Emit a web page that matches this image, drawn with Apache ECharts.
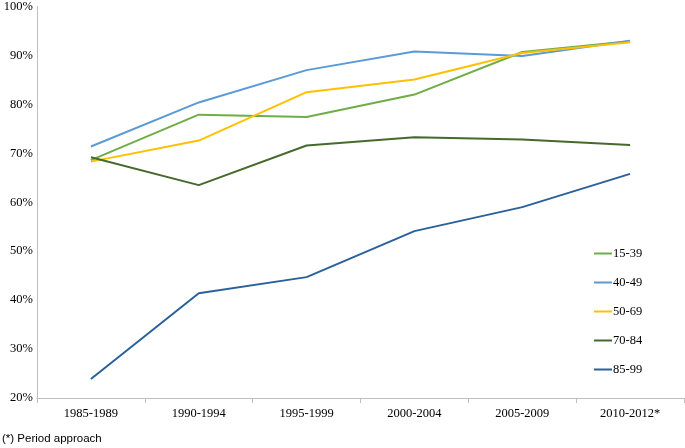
<!DOCTYPE html>
<html>
<head>
<meta charset="utf-8">
<script src="https://cdn.jsdelivr.net/npm/echarts@6/dist/echarts.min.js"></script>
<style>
html,body{margin:0;padding:0;background:#fff;}
#chart{width:685px;height:448px;}
</style>
</head>
<body>
<div id="chart"></div>
<script>
var categories = ['1985-1989','1990-1994','1995-1999','2000-2004','2005-2009','2010-2012*'];
var s1539 = [68.6, 77.9, 77.4, 82.0, 90.7, 92.9];
var s4049 = [71.4, 80.4, 87.0, 90.8, 89.9, 93.0];
var s5069 = [68.3, 72.6, 82.5, 85.1, 90.5, 92.7];
var s7084 = [69.2, 63.5, 71.6, 73.3, 72.8, 71.7];
var s8599 = [23.9, 41.4, 44.7, 54.1, 59.0, 65.8];
var seriesNames = ['15-39','40-49','50-69','70-84','85-99'];
var colors = ['#70AD47','#5B9BD5','#FFC000','#46692C','#2A619A'];
var footnote = '(*) Period approach';

var dataList = [s1539, s4049, s5069, s7084, s8599];
var serif = '"Liberation Serif","DejaVu Serif",serif';
var chart = echarts.init(document.getElementById('chart'));
chart.setOption({
  animation: false,
  backgroundColor: '#fff',
  grid: {left: 37, right: 1, top: 5, bottom: 50, containLabel: false},
  legend: {
    orient: 'vertical', left: 594, top: 247, padding: 0,
    itemWidth: 18, itemHeight: 2, itemGap: 16,
    icon: 'rect',
    textStyle: {fontFamily: serif, fontSize: 12.5, color: '#000', padding: [0,0,0,-4]},
    data: seriesNames
  },
  xAxis: {
    type: 'category', data: categories, boundaryGap: true,
    axisLine: {lineStyle: {color: '#bfbfbf', width: 1}},
    axisTick: {show: true, length: 5, interval: 0, lineStyle: {color: '#bfbfbf'}},
    axisLabel: {fontFamily: serif, fontSize: 12.5, color: '#000', margin: 9, interval: 0}
  },
  yAxis: {
    type: 'value', min: 20, max: 100, interval: 10,
    axisLine: {show: true, lineStyle: {color: '#bfbfbf', width: 1}},
    axisTick: {show: false},
    splitLine: {show: false},
    axisLabel: {fontFamily: serif, fontSize: 12.5, color: '#000', margin: 4, formatter: '{value}%'}
  },
  series: seriesNames.map(function(n, i){
    return {
      name: n, type: 'line', data: dataList[i],
      symbol: 'none', lineStyle: {color: colors[i], width: 2},
      itemStyle: {color: colors[i]}
    };
  }),
  graphic: [{
    type: 'text', left: 2, top: 433,
    style: {text: footnote, font: '11.5px "Liberation Sans", Arial, sans-serif', fill: '#000'}
  }]
});
</script>
</body>
</html>
